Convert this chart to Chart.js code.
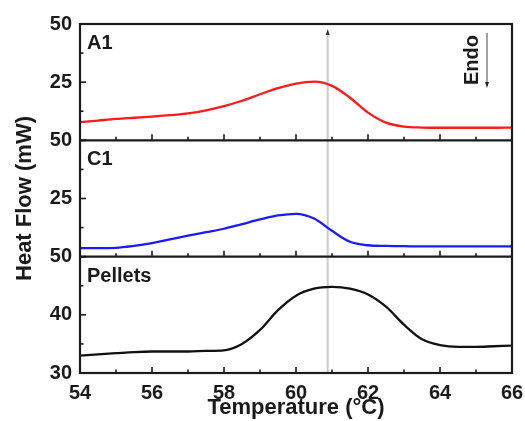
<!DOCTYPE html>
<html>
<head>
<meta charset="utf-8">
<script src="https://cdn.jsdelivr.net/npm/chart.js@4.4.1/dist/chart.umd.min.js"></script>
<style>
  html, body { margin: 0; padding: 0; background: #fff; }
  #wrap { width: 525px; height: 421px; }
</style>
</head>
<body>
<div id="wrap"><canvas id="dsc" width="525" height="421"></canvas></div>
<script>
/* DSC heat flow curves, three stacked panels on a shared temperature axis */

const temps = [54, 54.5, 55, 55.5, 56, 56.5, 57, 57.5, 58, 58.5, 59, 59.5, 60,
               60.5, 61, 61.5, 62, 62.5, 63, 63.5, 64, 64.5, 65, 65.5, 66];

const heatA1 = [7.8, 8.5, 9.2, 9.7, 10.2, 10.8, 11.6, 12.9, 14.7, 17.0, 19.8, 22.4, 24.4,
                25.2, 23.4, 18.3, 11.9, 7.6, 5.9, 5.5, 5.4, 5.4, 5.4, 5.4, 5.5];

const heatC1 = [3.7, 3.7, 3.8, 4.6, 5.8, 7.4, 9.0, 10.5, 12.0, 14.0, 16.0, 17.7, 18.4,
                16.4, 11.1, 6.4, 4.9, 4.6, 4.5, 4.4, 4.4, 4.4, 4.4, 4.4, 4.4];

const heatPellets = [33.0, 33.2, 33.4, 33.6, 33.7, 33.7, 33.7, 33.8, 33.9, 35.0, 37.4, 40.8, 43.3,
                     44.5, 44.8, 44.5, 43.5, 41.4, 38.3, 35.8, 34.8, 34.5, 34.5, 34.6, 34.7];

const panelNames = ['A1', 'C1', 'Pellets'];
const panelAxes = ['yA', 'yC', 'yP'];
const markerTemp = 60.88;   // onset marker through all panels

const FONT = '"Liberation Sans", Arial, sans-serif';
const INK = '#1a1a1a';

function toPoints(values) {
    return temps.map((t, i) => ({ x: t, y: values[i] }));
}

function yAxis(min, max, step, hideMin, extra) {
    return Object.assign({
        type: 'linear',
        position: 'left',
        stack: 'panels',
        stackWeight: 1,
        min: min,
        max: max,
        ticks: {
            stepSize: step,
            color: INK,
            padding: 8,
            font: { family: FONT, size: 20, weight: 'bold' },
            callback: (v) => (hideMin && v === min) ? '' : v
        },
        grid: { display: false, drawTicks: false },
        border: { display: false },
        afterFit: (scale) => { scale.width = 80; }
    }, extra || {});
}

// frame, inward ticks, marker line, panel names and the Endo hint
const panelDeco = {
    id: 'panelDeco',
    beforeDatasetsDraw(chart) {
        const { ctx, chartArea: a, scales } = chart;
        const x = scales.x.getPixelForValue(markerTemp);
        ctx.save();
        ctx.strokeStyle = '#cacaca';
        ctx.lineWidth = 2;
        ctx.beginPath();
        ctx.moveTo(x, a.top + 9);
        ctx.lineTo(x, a.bottom);
        ctx.stroke();
        ctx.fillStyle = '#333';
        ctx.beginPath();
        ctx.moveTo(x, a.top + 5);
        ctx.lineTo(x - 2, a.top + 11);
        ctx.lineTo(x + 2, a.top + 11);
        ctx.closePath();
        ctx.fill();
        ctx.restore();
    },
    afterDatasetsDraw(chart) {
        const { ctx, chartArea: a, scales } = chart;
        const xs = scales.x;
        ctx.save();
        ctx.strokeStyle = INK;
        ctx.lineWidth = 1.6;

        panelAxes.forEach((id, p) => {
            const ys = scales[id];
            // x ticks pointing up from the panel's bottom edge
            for (let t = xs.min; t <= xs.max; t += 1) {
                if (t === xs.min || t === xs.max) continue;
                const px = xs.getPixelForValue(t);
                const len = (t % 2 === 0) ? 6 : 3.5;
                ctx.beginPath();
                ctx.moveTo(px, ys.bottom);
                ctx.lineTo(px, ys.bottom - len);
                ctx.stroke();
            }
            // y ticks pointing right, majors and midway minors
            const vals = ys.ticks.map(t => t.value);
            vals.forEach((v, i) => {
                const py = ys.getPixelForValue(v);
                ctx.beginPath();
                ctx.moveTo(a.left, py);
                ctx.lineTo(a.left + 6, py);
                ctx.stroke();
                if (i < vals.length - 1) {
                    const my = ys.getPixelForValue((v + vals[i + 1]) / 2);
                    ctx.beginPath();
                    ctx.moveTo(a.left, my);
                    ctx.lineTo(a.left + 3.5, my);
                    ctx.stroke();
                }
            });
            // panel divider
            ctx.lineWidth = 2.2;
            ctx.beginPath();
            ctx.moveTo(a.left, ys.bottom);
            ctx.lineTo(a.right, ys.bottom);
            ctx.stroke();
            ctx.lineWidth = 1.6;

            ctx.fillStyle = INK;
            ctx.font = 'bold 20px ' + FONT;
            ctx.textAlign = 'left';
            ctx.textBaseline = 'alphabetic';
            ctx.fillText(panelNames[p], a.left + 7, ys.top + 25);
        });

        // outer frame
        ctx.lineWidth = 2.2;
        ctx.strokeRect(a.left, a.top, a.right - a.left, a.bottom - a.top);

        // "Endo" with a downward arrow
        ctx.save();
        ctx.translate(a.right - 40, a.top + 36);
        ctx.rotate(-Math.PI / 2);
        ctx.font = 'bold 20px ' + FONT;
        ctx.textAlign = 'center';
        ctx.textBaseline = 'middle';
        ctx.fillText('Endo', 0, 0);
        ctx.restore();
        const ax = a.right - 25;
        ctx.strokeStyle = '#444';
        ctx.lineWidth = 1;
        ctx.beginPath();
        ctx.moveTo(ax, a.top + 9);
        ctx.lineTo(ax, a.top + 60);
        ctx.stroke();
        ctx.fillStyle = '#222';
        ctx.beginPath();
        ctx.moveTo(ax, a.top + 64);
        ctx.lineTo(ax - 2, a.top + 58);
        ctx.lineTo(ax + 2, a.top + 58);
        ctx.closePath();
        ctx.fill();
        ctx.restore();
    }
};

const line = (values, color, axis) => ({
    data: toPoints(values),
    borderColor: color,
    borderWidth: 2.3,
    pointRadius: 0,
    cubicInterpolationMode: 'monotone',
    fill: false,
    yAxisID: axis
});

new Chart(document.getElementById('dsc'), {
    type: 'line',
    data: {
        datasets: [
            line(heatA1, '#ff1a1a', 'yA'),
            line(heatC1, '#1a1aff', 'yC'),
            line(heatPellets, '#111111', 'yP')
        ]
    },
    options: {
        responsive: false,
        animation: false,
        layout: { padding: { top: 24, right: 13, left: 0, bottom: 0 } },
        plugins: { legend: { display: false }, tooltip: { enabled: false } },
        scales: {
            x: {
                type: 'linear',
                min: 54,
                max: 66,
                ticks: {
                    stepSize: 2,
                    color: INK,
                    padding: 8,
                    font: { family: FONT, size: 20, weight: 'bold' }
                },
                grid: { display: false, drawTicks: false },
                border: { display: false },
                title: {
                    display: true,
                    text: 'Temperature (°C)',
                    color: INK,
                    padding: { top: 0, bottom: 0 },
                    font: { family: FONT, size: 22, weight: 'bold' }
                },
                afterFit: (scale) => {
                    scale.height = 48;
                    // let the end labels hang past the frame
                    scale.paddingLeft = 0;
                    scale.paddingRight = 0;
                }
            },
            // stacked axes are laid out bottom-up in the order they are listed
            yP: yAxis(30, 50, 10, false),
            yC: yAxis(0, 50, 25, true, {
                title: {
                    display: true,
                    text: 'Heat Flow (mW)',
                    color: INK,
                    padding: { top: 12, bottom: 0 },
                    font: { family: FONT, size: 22, weight: 'bold' }
                }
            }),
            yA: yAxis(0, 50, 25, true)
        }
    },
    plugins: [panelDeco]
});
</script>
</body>
</html>
